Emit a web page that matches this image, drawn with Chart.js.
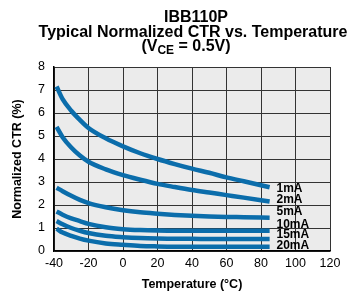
<!DOCTYPE html>
<html>
<head>
<meta charset="utf-8">
<script src="https://cdn.jsdelivr.net/npm/chart.js@4.4.1/dist/chart.umd.min.js"></script>
<style>
  body { margin: 0; background: #fff; }
</style>
</head>
<body>
<canvas id="chart" width="350" height="295"></canvas>
<script>
// DATA
var temps = [-38.5, -35, -30, -25, -20, -10, 0, 10, 20, 30, 40, 50, 60, 70, 85];
var ctr1mA  = [7.15, 6.60, 6.10, 5.70, 5.35, 4.90, 4.55, 4.25, 4.00, 3.78, 3.58, 3.40, 3.20, 3.03, 2.77];
var ctr2mA  = [5.40, 4.95, 4.50, 4.15, 3.88, 3.55, 3.30, 3.10, 2.92, 2.78, 2.65, 2.54, 2.43, 2.32, 2.15];
var ctr5mA  = [2.75, 2.60, 2.40, 2.22, 2.08, 1.90, 1.77, 1.68, 1.62, 1.57, 1.53, 1.50, 1.48, 1.47, 1.45];
var ctr10mA = [1.72, 1.58, 1.42, 1.30, 1.18, 1.03, 0.95, 0.91, 0.89, 0.88, 0.88, 0.88, 0.88, 0.88, 0.88];
var ctr15mA = [1.30, 1.16, 1.00, 0.88, 0.78, 0.66, 0.60, 0.56, 0.54, 0.53, 0.53, 0.52, 0.52, 0.52, 0.52];
var ctr20mA = [0.97, 0.80, 0.66, 0.54, 0.45, 0.33, 0.27, 0.22, 0.20, 0.19, 0.19, 0.19, 0.19, 0.19, 0.19];

var seriesNames = ['1mA', '2mA', '5mA', '10mA', '15mA', '20mA'];
var seriesValues = [ctr1mA, ctr2mA, ctr5mA, ctr10mA, ctr15mA, ctr20mA];
// where each curve label sits (in CTR units, at the right end of the curves)
var labelLevels = [2.70, 2.22, 1.69, 1.16, 0.70, 0.23];
var labelTemp = 89;

var titleLines = ['IBB110P', 'Typical Normalized CTR vs. Temperature'];

var LINE_COLOR = '#0b6dab';
var FONT = 'Arial, "Liberation Sans", Helvetica, sans-serif';

function toPoints(vals) {
  return vals.map(function (v, i) { return { x: temps[i], y: v }; });
}

// gray plot background
var plotBackground = {
  id: 'plotBackground',
  beforeDraw: function (chart) {
    var a = chart.chartArea, ctx = chart.ctx;
    ctx.save();
    ctx.fillStyle = '#ebebeb';
    ctx.fillRect(a.left, a.top, a.right - a.left, a.bottom - a.top);
    ctx.restore();
  }
};

// title block (with the CE subscript) and curve labels
var textBits = {
  id: 'textBits',
  afterDraw: function (chart) {
    var ctx = chart.ctx;
    var xs = chart.scales.x, ys = chart.scales.y;
    ctx.save();
    ctx.fillStyle = '#000';
    ctx.textBaseline = 'middle';
    ctx.textAlign = 'center';
    ctx.font = 'bold 16px ' + FONT;
    ctx.fillText(titleLines[0], 196, 18);
    ctx.fillText(titleLines[1], 193, 33);

    // third line: (V_CE = 0.5V)
    var big = 'bold 16px ' + FONT, small = 'bold 12px ' + FONT;
    var parts = [['(V', big, 0], ['CE', small, 4], [' = 0.5V)', big, 0]];
    var total = 0;
    parts.forEach(function (p) { ctx.font = p[1]; total += ctx.measureText(p[0]).width; });
    var x = 186 - total / 2;
    ctx.textAlign = 'left';
    parts.forEach(function (p) {
      ctx.font = p[1];
      ctx.fillText(p[0], x, 47 + p[2]);
      x += ctx.measureText(p[0]).width;
    });

    // curve labels
    ctx.font = 'bold 12px ' + FONT;
    seriesNames.forEach(function (name, i) {
      ctx.fillText(name, xs.getPixelForValue(labelTemp), ys.getPixelForValue(labelLevels[i]));
    });
    ctx.restore();
  }
};

new Chart(document.getElementById('chart'), {
  type: 'line',
  data: {
    datasets: seriesValues.map(function (vals, i) {
      return {
        label: seriesNames[i],
        data: toPoints(vals),
        borderColor: LINE_COLOR,
        borderWidth: 4.5,
        pointRadius: 0,
        fill: false,
        cubicInterpolationMode: 'monotone'
      };
    })
  },
  options: {
    responsive: false,
    animation: false,
    devicePixelRatio: 1,
    layout: { padding: { top: 67, left: 0, right: 20, bottom: 0 } },
    plugins: {
      legend: { display: false },
      tooltip: { enabled: false }
    },
    scales: {
      x: {
        type: 'linear',
        min: -40,
        max: 120,
        afterFit: function (s) { s.height = 44; },
        ticks: {
          stepSize: 20,
          padding: 5,
          color: '#000',
          font: { family: FONT, size: 12.5 },
          maxRotation: 0
        },
        grid: { color: '#333', lineWidth: 1, drawTicks: false },
        border: { color: '#000', width: 1.5 },
        title: {
          display: true,
          text: 'Temperature (°C)',
          color: '#000',
          font: { family: FONT, size: 12.5, weight: 'bold' },
          padding: { top: 0, bottom: 3 }
        }
      },
      y: {
        min: 0,
        max: 8,
        afterFit: function (s) { s.width = 54; },
        ticks: {
          stepSize: 1,
          padding: 9,
          color: '#000',
          font: { family: FONT, size: 12.5 }
        },
        grid: { color: '#333', lineWidth: 1, drawTicks: false },
        border: { color: '#000', width: 1.5 },
        title: {
          display: true,
          text: 'Normalized CTR (%)',
          color: '#000',
          font: { family: FONT, size: 12.5, weight: 'bold' },
          padding: { top: 10, bottom: 0 }
        }
      }
    }
  },
  plugins: [plotBackground, textBits]
});
</script>
</body>
</html>
